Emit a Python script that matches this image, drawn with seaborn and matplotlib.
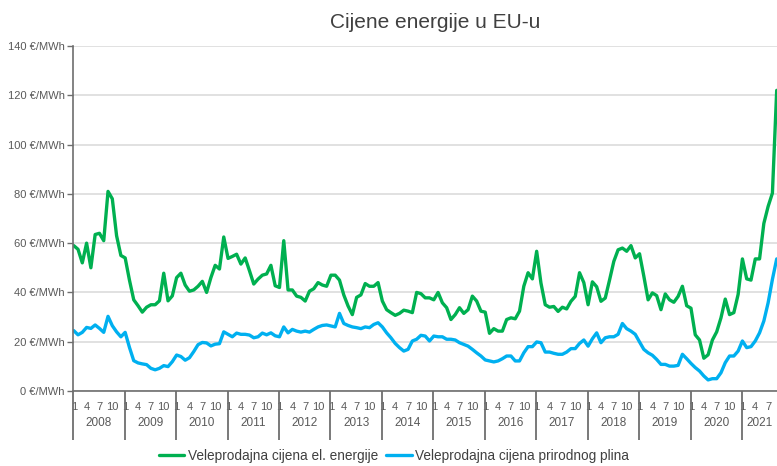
import matplotlib
matplotlib.use('Agg')
import matplotlib.pyplot as plt
import seaborn as sns
import numpy as np
import pandas as pd

# monthly wholesale prices, Jan 2008 - Sep 2021 (EUR/MWh)
years = list(range(2008, 2022))
month_labels = ['1', '4', '7', '10']

electricity = [
    59, 57.5, 52, 60, 50, 63.5, 64, 61, 81, 78, 63, 55,              # 2008
    54, 45, 37, 34.6, 32, 34, 35, 35, 36.6, 47.8, 36.6, 38.6,        # 2009
    46, 47.8, 43, 40.5, 41, 42.5, 44.5, 40, 46, 51, 49.5, 62.5,      # 2010
    53.8, 54.6, 55.5, 51.5, 54, 48.8, 43.4, 45.4, 47, 47.5, 51, 42.7,  # 2011
    42, 61, 41, 41, 38.5, 38, 36.5, 40.5, 41.5, 44, 43, 42.5,        # 2012
    47, 47, 45, 39, 34.5, 31, 38, 39, 43.6, 42.5, 42.5, 44,          # 2013
    36.5, 33, 31.8, 30.7, 31.5, 32.8, 32.4, 31.8, 40, 39.5, 37.8, 37.8,  # 2014
    37, 40, 35.8, 33.8, 29, 31, 33.8, 31.5, 33, 38.5, 36.5, 32.4,    # 2015
    32, 23.4, 25.3, 24.3, 24.3, 29, 29.7, 29.3, 32.4, 42.5, 48, 45.5,  # 2016
    56.7, 43.8, 35, 34, 34.3, 32.3, 34, 33.3, 36.4, 38.4, 48, 44,    # 2017
    35, 44.3, 42.3, 36.4, 37.7, 45, 52.6, 57.3, 58, 56.7, 59, 54,    # 2018
    55.7, 46.6, 37, 39.8, 38.7, 33, 39.4, 37, 36, 38.4, 42.5, 34.6,  # 2019
    33.6, 22.8, 20.7, 13.3, 14.7, 20.7, 24, 29.7, 37.3, 31, 31.8, 39.2,  # 2020
    53.6, 45.5, 45, 53.6, 53.6, 68, 74.9, 80.3, 122,                 # 2021
]

gas = [
    24.5, 22.8, 23.8, 25.8, 25.4, 26.8, 25.4, 23.8, 30.3, 26.5, 24, 22,  # 2008
    23.8, 17.7, 12.3, 11.4, 11, 10.7, 9.2, 8.6, 9.2, 10.3, 9.9, 11.9,  # 2009
    14.6, 14, 12.5, 13.5, 16, 18.8, 19.7, 19.5, 18.3, 19, 19.2, 24,    # 2010
    23, 22, 23.5, 23, 23, 22.7, 21.6, 22, 23.5, 22.8, 23.6, 22.4,      # 2011
    22, 26, 23.6, 25, 24.3, 23.9, 24.3, 23.9, 25, 26, 26.6, 26.8,      # 2012
    26.4, 26, 31.5, 27.4, 26.6, 26, 25.7, 25.3, 26, 25.7, 27, 27.7,    # 2013
    26, 23.6, 21.6, 19.3, 17.6, 16.2, 16.9, 20.3, 21, 22.6, 22.3, 20.3,  # 2014
    22.3, 22, 22, 21, 21, 20.7, 19.6, 18.9, 18.2, 16.9, 15.5, 14.2,    # 2015
    12.6, 12.2, 11.8, 12.2, 13.1, 14.2, 14.2, 12.2, 12.2, 15.5, 18, 18,  # 2016
    19.9, 19.6, 15.8, 15.8, 15.3, 14.9, 14.9, 15.8, 17.2, 17.2, 19.3, 20.7,  # 2017
    18.2, 21.2, 23.6, 19.6, 21.6, 22, 22, 23, 27.4, 25.3, 24.3, 23,    # 2018
    19.9, 16.9, 15.5, 14.5, 12.8, 10.8, 10.8, 10.1, 10.1, 10.4, 14.9, 13.1,  # 2019
    11.2, 9.5, 8.1, 6.1, 4.5, 5, 5, 7.4, 11.5, 14.2, 14.2, 16.2,       # 2020
    20.3, 17.6, 18, 20.3, 23.6, 28.4, 35.8, 45.3, 53.6,                # 2021
]

label_el = 'Veleprodajna cijena el. energije'
label_gas = 'Veleprodajna cijena prirodnog plina'

df = pd.DataFrame({'t': np.arange(len(electricity)),
                   label_el: electricity,
                   label_gas: gas})

sns.set_style('white')
plt.rcParams['font.family'] = ['Liberation Sans', 'DejaVu Sans']

GREEN = '#00b050'
BLUE = '#00b0f0'
TXT = '#595959'
AXC = '#6e6e6e'

fig = plt.figure(figsize=(7.77, 4.66), dpi=100)
ax = fig.add_axes([73.3 / 777, 1 - 391 / 466, (776.7 - 73.3) / 777, 345 / 466])

sns.lineplot(data=df, x='t', y=label_el, color=GREEN, lw=2.4, ax=ax, label=label_el, legend=False)
sns.lineplot(data=df, x='t', y=label_gas, color=BLUE, lw=2.4, ax=ax, label=label_gas, legend=False)

ax.set_xlim(0, len(electricity) - 1)
ax.set_ylim(0, 140)
ax.set_xlabel('')
ax.set_ylabel('')

# y axis
ax.set_yticks(range(0, 141, 20))
ax.set_yticklabels([f'{v} €/MWh' for v in range(0, 141, 20)])
ax.yaxis.grid(True, color='#d9d9d9', lw=1.1)
ax.tick_params(axis='y', left=True, labelsize=8, labelcolor=TXT, length=4, width=1, color=AXC, pad=2)

# x axis: month ticks and year separators
n = len(electricity)
major = [12 * i + k for i in range(len(years)) for k in (0, 3, 6, 9) if 12 * i + k < n]
labels = [month_labels[k // 3] for i in range(len(years)) for k in (0, 3, 6, 9) if 12 * i + k < n]
ax.set_xticks(major)
ax.set_xticklabels(labels)
ax.tick_params(axis='x', which='major', bottom=True, length=0, labelsize=8, labelcolor=TXT, pad=8)
bounds = [12 * i - 0.1 for i in range(len(years))]
ax.set_xticks(bounds, minor=True)
ax.tick_params(axis='x', which='minor', bottom=True, length=35, width=1.3, color=AXC)

for i, yr in enumerate(years):
    start = 12 * i - 0.1
    end = min(12 * (i + 1) - 0.1, n - 1 + 0.3)
    ax.text((start + end) / 2, -0.093, str(yr), transform=ax.get_xaxis_transform(),
            ha='center', va='center', fontsize=8.5, color=TXT)

for side in ('top', 'right'):
    ax.spines[side].set_visible(False)
for side in ('left', 'bottom'):
    ax.spines[side].set_color(AXC)
    ax.spines[side].set_linewidth(1.2)

fig.text(435 / 777, 1 - 23 / 466, 'Cijene energije u EU-u', ha='center', va='center',
         fontsize=15, color='#404040')

handles, labs = ax.get_legend_handles_labels()
fig.legend(handles, labs, loc='center', bbox_to_anchor=(394 / 777, 0.021), ncol=2,
           frameon=False, fontsize=9.8, labelcolor='#404040', handlelength=1.9,
           handletextpad=0.25, columnspacing=0.6, borderpad=0.1)

fig.savefig('out.png', dpi=100)
